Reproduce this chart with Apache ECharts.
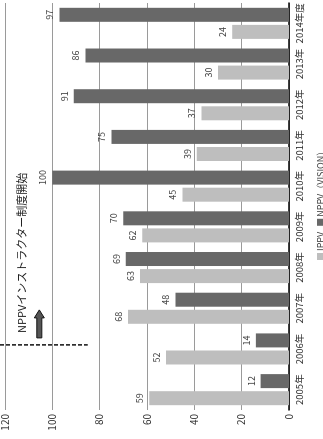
<!DOCTYPE html>
<html>
<head>
<meta charset="utf-8">
<script src="https://cdn.jsdelivr.net/npm/echarts@6/dist/echarts.min.js"></script>
<style>
  html, body { margin: 0; padding: 0; background: #fff; overflow: hidden; }
  #wrap { position: absolute; left: 0; top: 0; width: 323px; height: 439px; overflow: hidden; }
  /* the chart is laid out landscape and turned a quarter turn counter-clockwise */
  #chart { position: absolute; left: 0; top: 0; width: 439px; height: 323px;
           transform-origin: 0 0; transform: translate(0, 439px) rotate(-90deg); }
</style>
</head>
<body>
<div id="wrap"><div id="chart"></div></div>
<script>
const years = ['2005年', '2006年', '2007年', '2008年', '2009年', '2010年', '2011年', '2012年', '2013年', '2014年度'];
const ippv = [59, 52, 68, 63, 62, 45, 39, 37, 30, 24];
const nppv = [12, 14, 48, 69, 70, 100, 75, 91, 86, 97];
const seriesNames = ['IPPV', 'NPPV（VISION）'];
const noteText = 'NPPVインストラクター制度開始';

const FONT = '"Noto Sans CJK JP", "Noto Sans", sans-serif';
const chart = echarts.init(document.getElementById('chart'), null, { renderer: 'canvas' });

const barLabel = {
  show: true, position: 'top', distance: 5,
  fontSize: 9, color: '#444', fontFamily: FONT
};

chart.setOption({
  animation: false,
  backgroundColor: '#fff',
  textStyle: { fontFamily: FONT },
  grid: { left: 29, right: 3, top: 3, bottom: 34 },
  legend: {
    data: seriesNames,
    left: 174, top: 311,
    icon: 'rect', itemWidth: 7, itemHeight: 7, itemGap: 6,
    textStyle: { fontSize: 9, color: '#444', fontFamily: FONT, padding: [0, 0, 0, -3] }
  },
  xAxis: {
    type: 'category',
    data: years,
    axisLine: { lineStyle: { color: '#000', width: 1.5 } },
    axisTick: { show: false },
    axisLabel: { fontSize: 9.5, color: '#333', margin: 6, interval: 0 }
  },
  yAxis: {
    type: 'value', min: 0, max: 120, interval: 20,
    axisLine: { show: false },
    axisTick: { show: false },
    splitLine: { lineStyle: { color: '#9a9a9a', width: 1 } },
    axisLabel: { fontSize: 10, color: '#333', margin: 4 }
  },
  series: [
    {
      name: seriesNames[0], type: 'bar', data: ippv,
      barWidth: 14, barGap: '22%',
      itemStyle: { color: '#bebebe' },
      label: barLabel
    },
    {
      name: seriesNames[1], type: 'bar', data: nppv,
      barWidth: 14,
      itemStyle: { color: '#686868' },
      label: barLabel
    }
  ]
});

// annotation: dashed marker just after the 2006 group, arrow and note
const x06 = chart.convertToPixel({ xAxisIndex: 0 }, years[1]);
const x07 = chart.convertToPixel({ xAxisIndex: 0 }, years[2]);
const dashX = x06 + 0.1 * (x07 - x06);
const yOf = v => chart.convertToPixel({ yAxisIndex: 0 }, v);
const dashBottom = yOf(85);
const arrowY = yOf(105.5);
const noteY = yOf(113);
const ax0 = dashX + 7, ax1 = dashX + 35;

chart.setOption({
  graphic: [
    {
      type: 'line', silent: true,
      shape: { x1: dashX, y1: 0, x2: dashX, y2: dashBottom },
      style: { stroke: '#111', lineWidth: 1.5, lineDash: [4, 2] }
    },
    {
      type: 'polygon', silent: true,
      shape: {
        points: [
          [ax0, arrowY - 2.5], [ax1 - 8, arrowY - 2.5], [ax1 - 8, arrowY - 5],
          [ax1, arrowY], [ax1 - 8, arrowY + 5], [ax1 - 8, arrowY + 2.5], [ax0, arrowY + 2.5]
        ]
      },
      style: { fill: '#555', stroke: '#111', lineWidth: 1 }
    },
    {
      type: 'text', silent: true,
      x: dashX + 12, y: noteY,
      style: {
        text: noteText, fontSize: 11, fill: '#222', fontFamily: FONT,
        textVerticalAlign: 'middle', verticalAlign: 'middle'
      }
    }
  ]
});
</script>
</body>
</html>
